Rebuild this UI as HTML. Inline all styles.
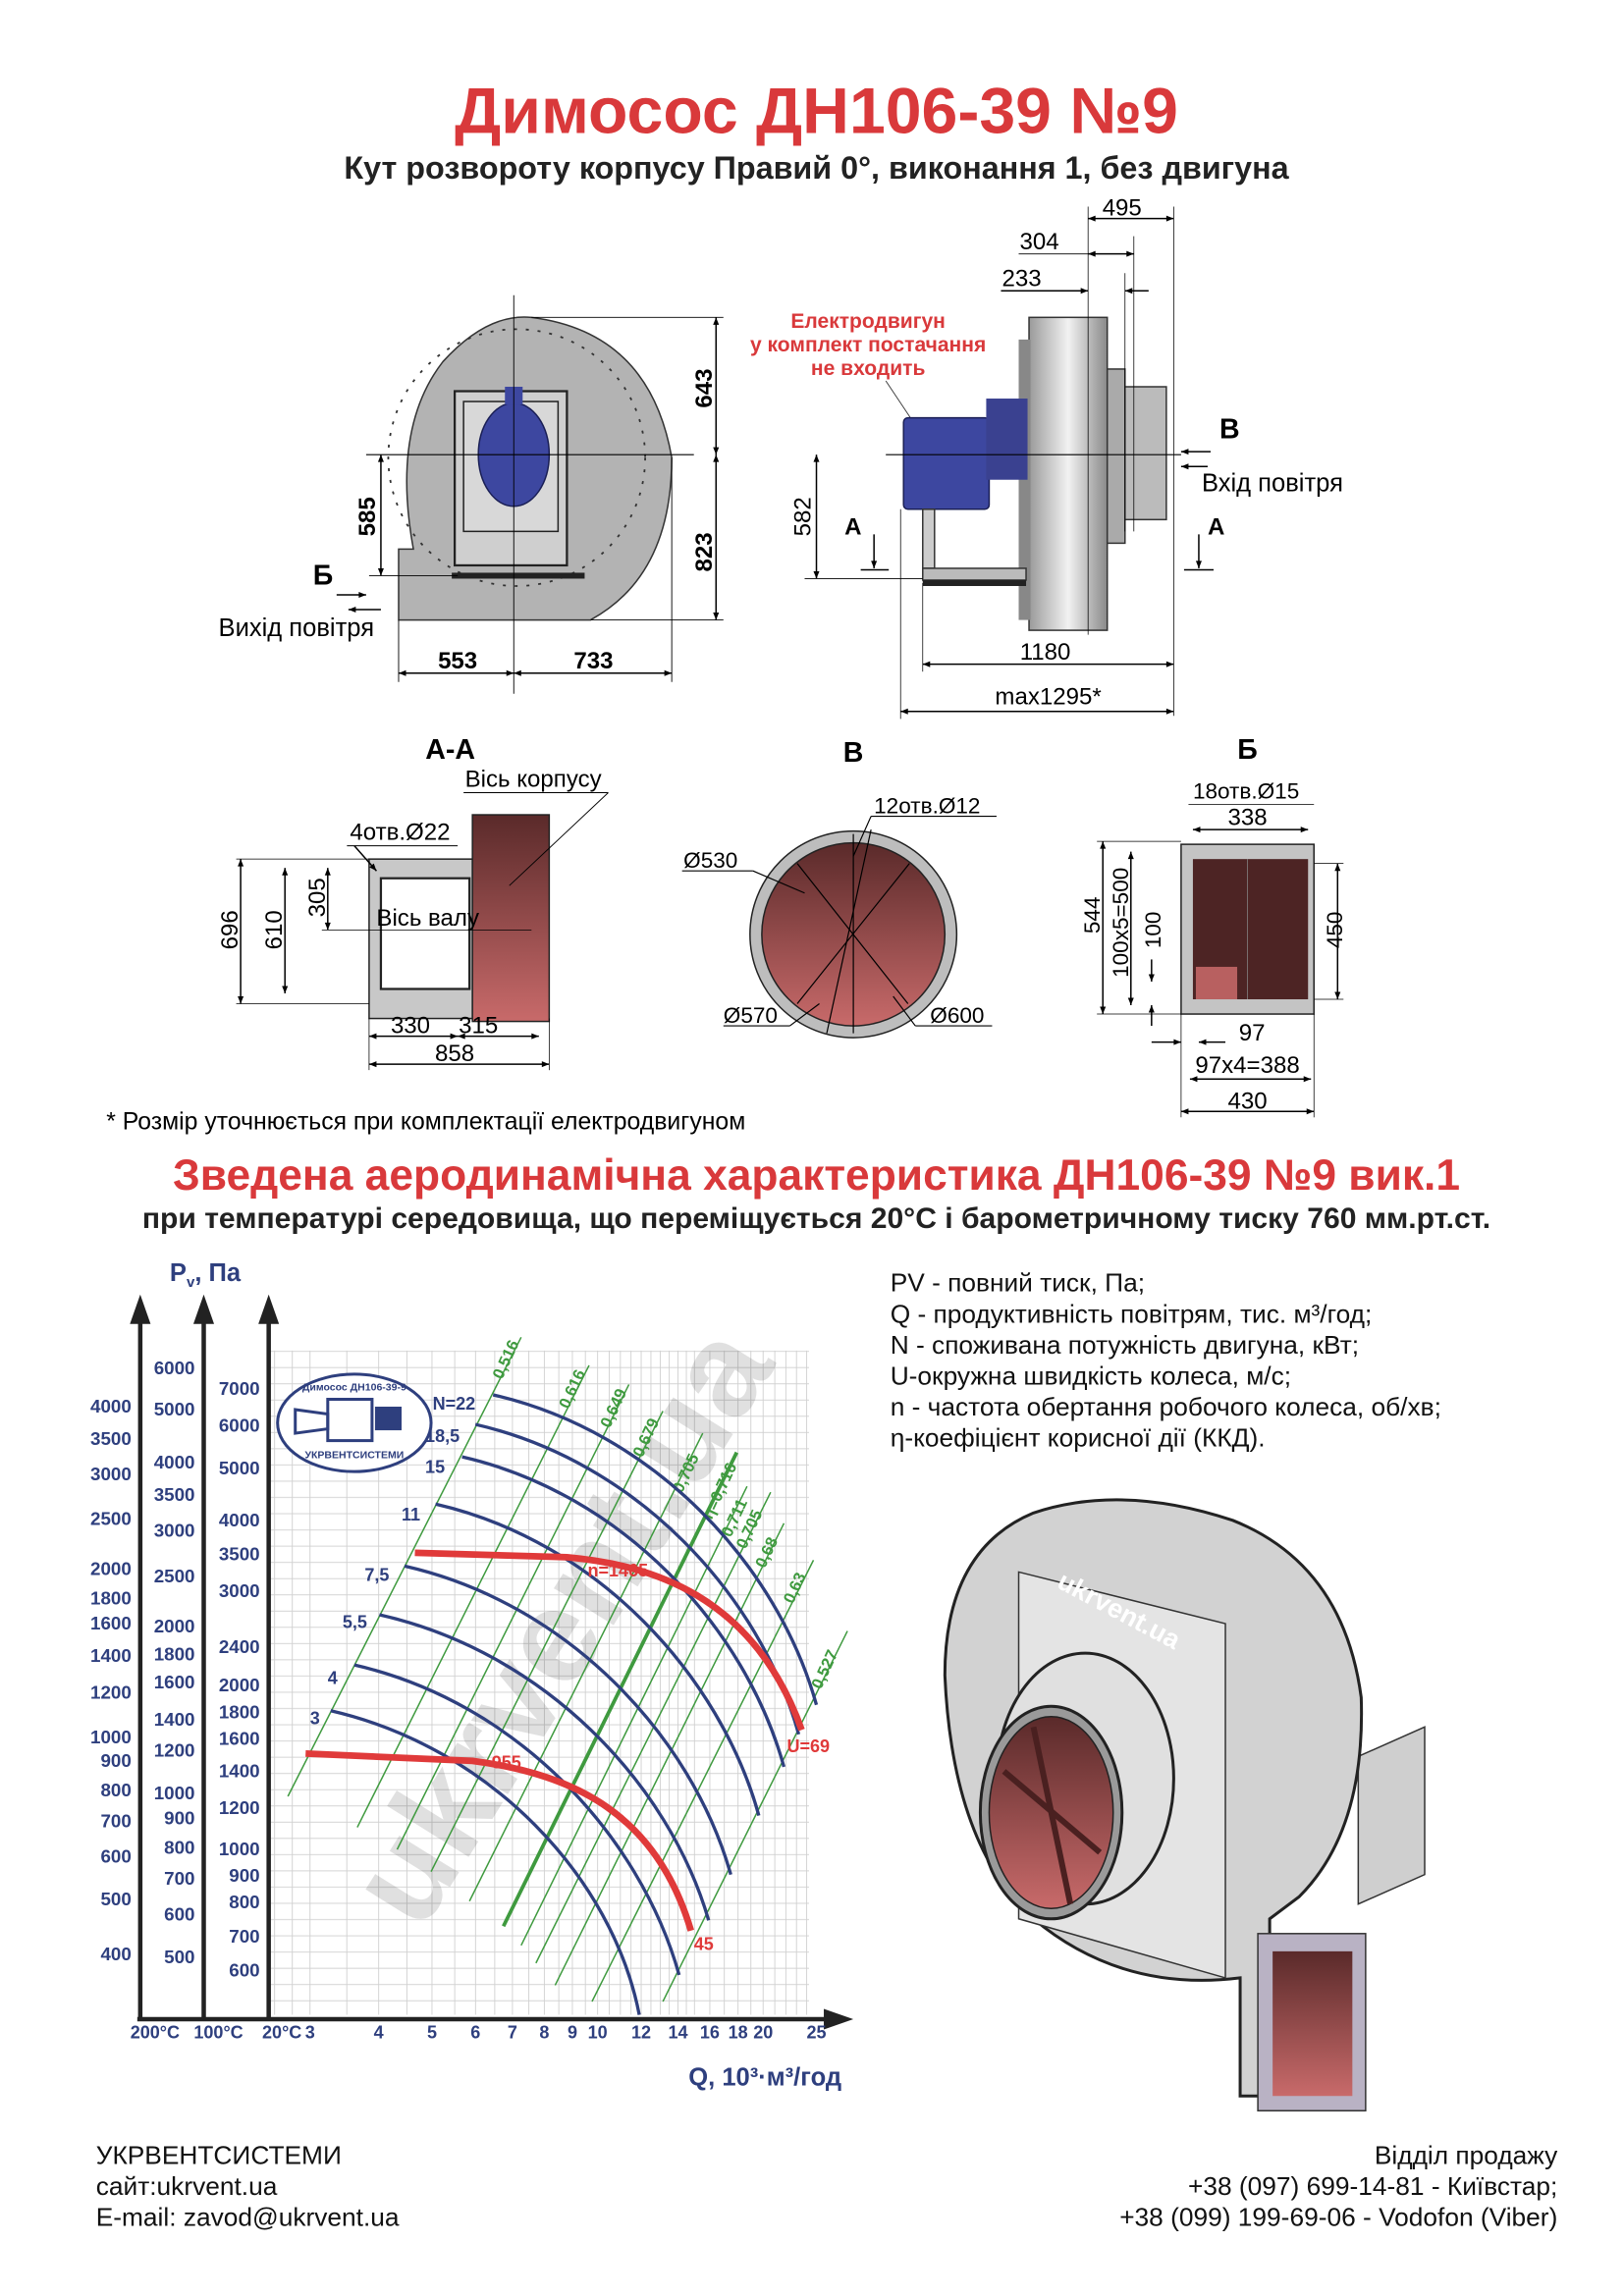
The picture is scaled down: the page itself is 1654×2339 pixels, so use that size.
<!DOCTYPE html>
<html><head><meta charset="utf-8"><style>
html,body{margin:0;padding:0;background:#fff}
svg{display:block}
text{font-family:"Liberation Sans",Arial,sans-serif}
</style></head><body>
<svg width="1654" height="2339" viewBox="0 0 1100 1555.5" xmlns="http://www.w3.org/2000/svg">
<defs>
<marker id="ar" viewBox="0 0 10 10" refX="10" refY="5" markerWidth="7" markerHeight="5" orient="auto-start-reverse"><path d="M0,1 L10,5 L0,9 Z" fill="#000"/></marker>
<linearGradient id="red" x1="0" y1="0" x2="0" y2="1"><stop offset="0" stop-color="#5a2a2a"/><stop offset="1" stop-color="#c86a6a"/></linearGradient>
<linearGradient id="gr" x1="0" y1="0" x2="1" y2="0"><stop offset="0" stop-color="#9a9a9a"/><stop offset=".5" stop-color="#f2f2f2"/><stop offset="1" stop-color="#8a8a8a"/></linearGradient>
<pattern id="hg" x="0" y="915" width="10" height="11" patternUnits="userSpaceOnUse"><line x1="0" y1="0.5" x2="10" y2="0.5" stroke="#d0d0d0" stroke-width="0.6"/></pattern>
</defs>

<!-- Titles -->
<text x="553" y="90" text-anchor="middle" font-size="44" font-weight="bold" fill="#d9393b">Димосос  ДН106-39 №9</text>
<text x="553" y="121" text-anchor="middle" font-size="21.5" font-weight="bold" fill="#222">Кут розвороту корпусу Правий 0°, виконання 1, без двигуна</text>

<!-- FRONT VIEW -->
<path d="M270,420 L270,372 L280,372 Q265,290 300,245 Q330,212 360,215 Q440,225 455,310 Q455,390 400,420 Z" fill="#b3b3b3" stroke="#333" stroke-width="1"/>
<circle cx="350" cy="310" r="87" fill="none" stroke="#333" stroke-width="1.2" stroke-dasharray="2 6"/>
<rect x="308" y="265" width="76" height="118" fill="#cfcfcf" stroke="#222" stroke-width="1.5"/>
<rect x="314" y="272" width="64" height="88" fill="#d8d8d8" stroke="#222"/>
<ellipse cx="348" cy="308" rx="24" ry="35" fill="#3d47a0" stroke="#1a1f55"/>
<rect x="342" y="262" width="12" height="12" fill="#3d47a0"/>
<rect x="306" y="388" width="90" height="4" fill="#222"/>
<line x1="248" y1="308" x2="470" y2="308" stroke="#000" stroke-width="0.8"/>
<line x1="348" y1="200" x2="348" y2="470" stroke="#000" stroke-width="0.6"/>
<line x1="360" y1="215" x2="490" y2="215" stroke="#000" stroke-width="0.6"/>
<line x1="400" y1="420" x2="490" y2="420" stroke="#000" stroke-width="0.6"/>
<line x1="485" y1="215" x2="485" y2="308" stroke="#000" marker-start="url(#ar)" marker-end="url(#ar)"/>
<line x1="485" y1="308" x2="485" y2="420" stroke="#000" marker-start="url(#ar)" marker-end="url(#ar)"/>
<text transform="translate(482,263) rotate(-90)" text-anchor="middle" font-size="16" font-weight="bold">643</text>
<text transform="translate(482,374) rotate(-90)" text-anchor="middle" font-size="16" font-weight="bold">823</text>
<line x1="258" y1="308" x2="258" y2="390" stroke="#000" marker-start="url(#ar)" marker-end="url(#ar)"/>
<line x1="250" y1="390" x2="310" y2="390" stroke="#000" stroke-width="0.6"/>
<text transform="translate(254,350) rotate(-90)" text-anchor="middle" font-size="16" font-weight="bold">585</text>
<line x1="270" y1="420" x2="270" y2="462" stroke="#000" stroke-width="0.6"/>
<line x1="455" y1="310" x2="455" y2="462" stroke="#000" stroke-width="0.6"/>
<line x1="270" y1="456" x2="348" y2="456" stroke="#000" marker-start="url(#ar)" marker-end="url(#ar)"/>
<line x1="348" y1="456" x2="455" y2="456" stroke="#000" marker-start="url(#ar)" marker-end="url(#ar)"/>
<text x="310" y="453" text-anchor="middle" font-size="16" font-weight="bold">553</text>
<text x="402" y="453" text-anchor="middle" font-size="16" font-weight="bold">733</text>
<text x="212" y="396" font-size="19" font-weight="bold">Б</text>
<line x1="228" y1="403" x2="248" y2="403" stroke="#000" marker-end="url(#ar)"/>
<line x1="258" y1="413" x2="236" y2="413" stroke="#000" marker-end="url(#ar)"/>
<text x="148" y="431" font-size="17">Вихід повітря</text>

<!-- SIDE VIEW -->
<text x="588" y="222" text-anchor="middle" font-size="14" font-weight="bold" fill="#d9393b">Електродвигун</text>
<text x="588" y="238" text-anchor="middle" font-size="14" font-weight="bold" fill="#d9393b">у комплект постачання</text>
<text x="588" y="254" text-anchor="middle" font-size="14" font-weight="bold" fill="#d9393b">не входить</text>
<line x1="600" y1="258" x2="628" y2="300" stroke="#333" stroke-width="0.6"/>
<rect x="697" y="215" width="53" height="212" fill="url(#gr)" stroke="#333"/>
<rect x="690" y="230" width="8" height="190" fill="#888"/>
<rect x="750" y="250" width="12" height="118" fill="#aaa" stroke="#333"/>
<rect x="762" y="262" width="28" height="90" fill="#bbb" stroke="#333"/>
<rect x="612" y="283" width="58" height="62" rx="3" fill="#3d47a0" stroke="#1a1f55"/>
<rect x="668" y="270" width="28" height="55" fill="#3a4190"/>
<rect x="625" y="345" width="8" height="40" fill="#ccc" stroke="#333"/>
<rect x="625" y="385" width="70" height="8" fill="#bbb" stroke="#333"/>
<rect x="625" y="393" width="70" height="4" fill="#222"/>
<line x1="600" y1="308" x2="800" y2="308" stroke="#000" stroke-width="0.8"/>
<line x1="737" y1="140" x2="737" y2="430" stroke="#000" stroke-width="0.5"/>
<line x1="795" y1="140" x2="795" y2="485" stroke="#000" stroke-width="0.5"/>
<line x1="768" y1="160" x2="768" y2="360" stroke="#000" stroke-width="0.5"/>
<line x1="762" y1="185" x2="762" y2="360" stroke="#000" stroke-width="0.5"/>
<line x1="737" y1="148" x2="795" y2="148" stroke="#000" marker-start="url(#ar)" marker-end="url(#ar)"/>
<text x="760" y="146" text-anchor="middle" font-size="16">495</text>
<line x1="690" y1="172" x2="737" y2="172" stroke="#000" stroke-width="0.6"/>
<line x1="737" y1="172" x2="768" y2="172" stroke="#000" marker-start="url(#ar)" marker-end="url(#ar)"/>
<text x="704" y="169" text-anchor="middle" font-size="16">304</text>
<line x1="678" y1="197" x2="737" y2="197" stroke="#000" marker-end="url(#ar)"/>
<line x1="778" y1="197" x2="762" y2="197" stroke="#000" marker-end="url(#ar)"/>
<text x="692" y="194" text-anchor="middle" font-size="16">233</text>
<line x1="553" y1="308" x2="553" y2="392" stroke="#000" marker-start="url(#ar)" marker-end="url(#ar)"/>
<line x1="545" y1="392" x2="625" y2="392" stroke="#000" stroke-width="0.6"/>
<text transform="translate(549,350) rotate(-90)" text-anchor="middle" font-size="16">582</text>
<text x="572" y="362" font-size="16" font-weight="bold">A</text>
<line x1="592" y1="362" x2="592" y2="385" stroke="#000" marker-end="url(#ar)"/>
<line x1="583" y1="386" x2="602" y2="386" stroke="#000"/>
<text x="818" y="362" font-size="16" font-weight="bold">A</text>
<line x1="812" y1="362" x2="812" y2="385" stroke="#000" marker-end="url(#ar)"/>
<line x1="802" y1="386" x2="822" y2="386" stroke="#000"/>
<text x="826" y="297" font-size="19" font-weight="bold">B</text>
<line x1="820" y1="306" x2="800" y2="306" stroke="#000" marker-end="url(#ar)"/>
<line x1="818" y1="316" x2="800" y2="316" stroke="#000" marker-end="url(#ar)"/>
<text x="814" y="333" font-size="17">Вхід повітря</text>
<line x1="625" y1="395" x2="625" y2="455" stroke="#000" stroke-width="0.5"/>
<line x1="610" y1="345" x2="610" y2="487" stroke="#000" stroke-width="0.5"/>
<line x1="625" y1="450" x2="795" y2="450" stroke="#000" marker-start="url(#ar)" marker-end="url(#ar)"/>
<text x="708" y="447" text-anchor="middle" font-size="16">1180</text>
<line x1="610" y1="482" x2="795" y2="482" stroke="#000" marker-start="url(#ar)" marker-end="url(#ar)"/>
<text x="710" y="477" text-anchor="middle" font-size="16">max1295*</text>

<!-- SECTIONS -->
<text x="305" y="514" text-anchor="middle" font-size="19" font-weight="bold">A-A</text>
<text x="578" y="516" text-anchor="middle" font-size="19" font-weight="bold">B</text>
<text x="845" y="514" text-anchor="middle" font-size="19" font-weight="bold">Б</text>
<rect x="250" y="582" width="70" height="108" fill="#c8c8c8" stroke="#222"/>
<rect x="258" y="595" width="60" height="75" fill="#fff" stroke="#222" stroke-width="1.5"/>
<rect x="320" y="552" width="52" height="140" fill="url(#red)" stroke="#222"/>
<text x="315" y="533" font-size="16">Вісь корпусу</text>
<line x1="314" y1="537" x2="412" y2="537" stroke="#000" stroke-width="0.6"/>
<line x1="412" y1="537" x2="345" y2="600" stroke="#000" stroke-width="0.6"/>
<text x="237" y="569" font-size="16">4отв.Ø22</text>
<line x1="235" y1="573" x2="310" y2="573" stroke="#000" stroke-width="0.6"/>
<line x1="240" y1="573" x2="255" y2="590" stroke="#000" marker-end="url(#ar)"/>
<text x="255" y="627" font-size="16">Вісь валу</text>
<line x1="160" y1="582" x2="250" y2="582" stroke="#000" stroke-width="0.5"/>
<line x1="160" y1="680" x2="250" y2="680" stroke="#000" stroke-width="0.5"/>
<line x1="163" y1="582" x2="163" y2="680" stroke="#000" marker-start="url(#ar)" marker-end="url(#ar)"/>
<text transform="translate(161,630) rotate(-90)" text-anchor="middle" font-size="16">696</text>
<line x1="193" y1="588" x2="193" y2="673" stroke="#000" marker-start="url(#ar)" marker-end="url(#ar)"/>
<text transform="translate(191,630) rotate(-90)" text-anchor="middle" font-size="16">610</text>
<line x1="222" y1="588" x2="222" y2="630" stroke="#000" marker-start="url(#ar)" marker-end="url(#ar)"/>
<text transform="translate(220,608) rotate(-90)" text-anchor="middle" font-size="16">305</text>
<line x1="218" y1="630" x2="360" y2="630" stroke="#000" stroke-width="0.5"/>
<line x1="250" y1="690" x2="250" y2="725" stroke="#000" stroke-width="0.5"/>
<line x1="372" y1="690" x2="372" y2="725" stroke="#000" stroke-width="0.5"/>
<line x1="250" y1="702" x2="310" y2="702" stroke="#000" marker-start="url(#ar)" marker-end="url(#ar)"/>
<line x1="310" y1="702" x2="365" y2="702" stroke="#000" marker-start="url(#ar)" marker-end="url(#ar)"/>
<text x="278" y="700" text-anchor="middle" font-size="16">330</text>
<text x="324" y="700" text-anchor="middle" font-size="16">315</text>
<line x1="250" y1="721" x2="372" y2="721" stroke="#000" marker-start="url(#ar)" marker-end="url(#ar)"/>
<text x="308" y="719" text-anchor="middle" font-size="16">858</text>
<circle cx="578" cy="633" r="70" fill="#bdbdbd" stroke="#222"/>
<circle cx="578" cy="633" r="62" fill="url(#red)" stroke="#222"/>
<g stroke="#000" stroke-width="0.8">
<line x1="540" y1="585" x2="615" y2="680"/><line x1="616" y1="585" x2="540" y2="680"/><line x1="578" y1="565" x2="578" y2="700"/><line x1="590" y1="562" x2="560" y2="700"/>
<line x1="462" y1="590" x2="510" y2="590"/><line x1="510" y1="590" x2="545" y2="605"/>
<line x1="490" y1="695" x2="535" y2="695"/><line x1="535" y1="695" x2="555" y2="680"/>
<line x1="620" y1="695" x2="672" y2="695"/><line x1="620" y1="695" x2="605" y2="675"/>
<line x1="590" y1="553" x2="675" y2="553"/><line x1="590" y1="553" x2="578" y2="580"/>
</g>
<text x="463" y="588" font-size="15">Ø530</text>
<text x="490" y="693" font-size="15">Ø570</text>
<text x="630" y="693" font-size="15">Ø600</text>
<text x="592" y="551" font-size="15">12отв.Ø12</text>
<rect x="800" y="572" width="90" height="115" fill="#c4c4c4" stroke="#222"/>
<rect x="808" y="582" width="78" height="95" fill="#4d2424"/>
<rect x="810" y="655" width="28" height="22" fill="#b86060"/>
<line x1="845" y1="582" x2="845" y2="677" stroke="#888" stroke-width="0.5"/>
<text x="808" y="541" font-size="15">18отв.Ø15</text>
<line x1="805" y1="545" x2="890" y2="545" stroke="#000" stroke-width="0.5"/>
<line x1="808" y1="562" x2="886" y2="562" stroke="#000" marker-start="url(#ar)" marker-end="url(#ar)"/>
<text x="845" y="559" text-anchor="middle" font-size="16">338</text>
<line x1="743" y1="570" x2="800" y2="570" stroke="#000" stroke-width="0.5"/>
<line x1="743" y1="687" x2="800" y2="687" stroke="#000" stroke-width="0.5"/>
<line x1="747" y1="570" x2="747" y2="687" stroke="#000" marker-start="url(#ar)" marker-end="url(#ar)"/>
<text transform="translate(745,620) rotate(-90)" text-anchor="middle" font-size="15">544</text>
<line x1="766" y1="577" x2="766" y2="681" stroke="#000" marker-start="url(#ar)" marker-end="url(#ar)"/>
<text transform="translate(764,625) rotate(-90)" text-anchor="middle" font-size="15">100x5=500</text>
<line x1="780" y1="650" x2="780" y2="665" stroke="#000" marker-end="url(#ar)"/>
<line x1="780" y1="695" x2="780" y2="681" stroke="#000" marker-end="url(#ar)"/>
<text transform="translate(786,630) rotate(-90)" text-anchor="middle" font-size="15">100</text>
<line x1="890" y1="585" x2="910" y2="585" stroke="#000" stroke-width="0.5"/>
<line x1="890" y1="677" x2="910" y2="677" stroke="#000" stroke-width="0.5"/>
<line x1="906" y1="585" x2="906" y2="677" stroke="#000" marker-start="url(#ar)" marker-end="url(#ar)"/>
<text transform="translate(909,630) rotate(-90)" text-anchor="middle" font-size="15">450</text>
<line x1="800" y1="687" x2="800" y2="757" stroke="#000" stroke-width="0.5"/>
<line x1="890" y1="687" x2="890" y2="757" stroke="#000" stroke-width="0.5"/>
<line x1="780" y1="706" x2="800" y2="706" stroke="#000" marker-end="url(#ar)"/>
<line x1="830" y1="706" x2="812" y2="706" stroke="#000" marker-end="url(#ar)"/>
<text x="848" y="705" text-anchor="middle" font-size="16">97</text>
<line x1="806" y1="731" x2="888" y2="731" stroke="#000" marker-start="url(#ar)" marker-end="url(#ar)"/>
<text x="845" y="727" text-anchor="middle" font-size="16">97x4=388</text>
<line x1="800" y1="753" x2="890" y2="753" stroke="#000" marker-start="url(#ar)" marker-end="url(#ar)"/>
<text x="845" y="751" text-anchor="middle" font-size="16">430</text>

<text x="72" y="765" font-size="16.5">* Розмір уточнюється при комплектації електродвигуном</text>

<text x="553" y="806" text-anchor="middle" font-size="29.5" font-weight="bold" fill="#d9393b">Зведена аеродинамічна характеристика ДН106-39 №9 вик.1</text>
<text x="553" y="832" text-anchor="middle" font-size="20" font-weight="bold" fill="#222">при температурі середовища, що переміщується 20°С і барометричному тиску 760 мм.рт.ст.</text>

<!-- CHART -->
<rect x="182" y="915" width="366" height="450" fill="url(#hg)"/>
<g stroke="#d0d0d0" stroke-width="0.6">
<line x1="186" y1="915" x2="186" y2="1365"/><line x1="198" y1="915" x2="198" y2="1365"/>
<line x1="210" y1="915" x2="210" y2="1365"/><line x1="234.9" y1="915" x2="234.9" y2="1365"/><line x1="256.5" y1="915" x2="256.5" y2="1365"/><line x1="275.6" y1="915" x2="275.6" y2="1365"/><line x1="292.6" y1="915" x2="292.6" y2="1365"/><line x1="308" y1="915" x2="308" y2="1365"/><line x1="322.1" y1="915" x2="322.1" y2="1365"/><line x1="335.1" y1="915" x2="335.1" y2="1365"/><line x1="347.1" y1="915" x2="347.1" y2="1365"/><line x1="358.2" y1="915" x2="358.2" y2="1365"/><line x1="368.7" y1="915" x2="368.7" y2="1365"/><line x1="378.5" y1="915" x2="378.5" y2="1365"/><line x1="387.7" y1="915" x2="387.7" y2="1365"/><line x1="396.5" y1="915" x2="396.5" y2="1365"/><line x1="404.8" y1="915" x2="404.8" y2="1365"/><line x1="412.7" y1="915" x2="412.7" y2="1365"/><line x1="420.2" y1="915" x2="420.2" y2="1365"/><line x1="427.4" y1="915" x2="427.4" y2="1365"/><line x1="434.3" y1="915" x2="434.3" y2="1365"/><line x1="440.9" y1="915" x2="440.9" y2="1365"/><line x1="447.2" y1="915" x2="447.2" y2="1365"/><line x1="453.3" y1="915" x2="453.3" y2="1365"/><line x1="459.2" y1="915" x2="459.2" y2="1365"/><line x1="464.9" y1="915" x2="464.9" y2="1365"/><line x1="470.4" y1="915" x2="470.4" y2="1365"/><line x1="480.8" y1="915" x2="480.8" y2="1365"/><line x1="490.6" y1="915" x2="490.6" y2="1365"/><line x1="499.9" y1="915" x2="499.9" y2="1365"/><line x1="508.6" y1="915" x2="508.6" y2="1365"/><line x1="516.9" y1="915" x2="516.9" y2="1365"/><line x1="524.8" y1="915" x2="524.8" y2="1365"/><line x1="532.3" y1="915" x2="532.3" y2="1365"/><line x1="539.5" y1="915" x2="539.5" y2="1365"/><line x1="546.4" y1="915" x2="546.4" y2="1365"/>
</g>
<text transform="translate(285,1310) rotate(-58)" font-size="90" font-weight="bold" fill="#000" fill-opacity="0.12">ukrvent.ua</text>
<g stroke="#3f9a3f" stroke-width="1">
<line x1="195" y1="1217" x2="353" y2="906"/><line x1="242" y1="1238" x2="399" y2="925"/><line x1="269" y1="1253" x2="426" y2="938"/><line x1="292" y1="1268" x2="449" y2="956"/><line x1="318" y1="1288" x2="476" y2="971"/><line x1="341" y1="1305" x2="499" y2="984" stroke-width="2.5"/><line x1="353" y1="1318" x2="506" y2="1007"/><line x1="363" y1="1330" x2="522" y2="1011"/><line x1="376" y1="1345" x2="531" y2="1032"/><line x1="401" y1="1356" x2="551" y2="1057"/><line x1="449" y1="1356" x2="574" y2="1105"/>
</g>
<g fill="#3f9a3f" font-size="11" font-weight="bold">
<text transform="translate(340,935) rotate(-65)">0,516</text>
<text transform="translate(385,955) rotate(-65)">0,616</text>
<text transform="translate(413,968) rotate(-65)">0,649</text>
<text transform="translate(435,988) rotate(-65)">0,679</text>
<text transform="translate(462,1012) rotate(-65)">0,705</text>
<text transform="translate(482,1030) rotate(-65)">η=0,716</text>
<text transform="translate(495,1042) rotate(-65)">0,711</text>
<text transform="translate(505,1050) rotate(-65)">0,705</text>
<text transform="translate(518,1063) rotate(-65)">0,68</text>
<text transform="translate(537,1087) rotate(-65)">0,63</text>
<text transform="translate(556,1145) rotate(-65)">0,527</text>
</g>
<g stroke="#2e3f7e" stroke-width="2.2" fill="none">
<path d="M334,945 C443.5,970 526.7,1060.5 553,1155"/>
<path d="M322,965 C431.5,990 514.7,1080.5 541,1175"/>
<path d="M313,987 C422,1012 504.8,1102.5 531,1197"/>
<path d="M295,1019 C404.5,1044 487.7,1135 514,1230"/>
<path d="M274,1061 C384.5,1086 468.5,1176 495,1270"/>
<path d="M257,1094 C368.5,1119 453,1208 480,1301"/>
<path d="M240,1128 C350,1153 433.6,1243.5 460,1338"/>
<path d="M224,1159 C332.5,1184 415,1272 433,1365"/>
</g>
<g stroke="#e03a3a" stroke-width="4.5" fill="none">
<path d="M281,1052 L384,1055 C440,1060 510,1080 543,1172"/>
<path d="M207,1188 L320,1193 C390,1202 445,1230 468,1308"/>
</g>
<g fill="#2e3f7e" font-size="12" font-weight="bold">
<text x="293" y="955">N=22</text><text x="288" y="977">18,5</text><text x="288" y="998">15</text><text x="272" y="1030">11</text><text x="247" y="1071">7,5</text><text x="232" y="1103">5,5</text><text x="222" y="1141">4</text><text x="210" y="1168">3</text>
</g>
<g fill="#e03a3a" font-size="12" font-weight="bold">
<text x="398" y="1068">n=1465</text><text x="333" y="1198">955</text><text x="533" y="1187">U=69</text><text x="470" y="1321">45</text>
</g>
<ellipse cx="240" cy="964" rx="52" ry="33" fill="#fff" stroke="#2e3f7e" stroke-width="2"/>
<rect x="222" y="948" width="30" height="28" fill="none" stroke="#2e3f7e" stroke-width="2"/>
<path d="M200,955 L222,958 L222,968 L200,971 Z" fill="none" stroke="#2e3f7e" stroke-width="2"/>
<rect x="254" y="953" width="18" height="16" fill="#2e3f7e"/>
<text x="240" y="942" text-anchor="middle" font-size="7" fill="#2e3f7e" font-weight="bold">Димосос ДН106-39-9</text>
<text x="240" y="988" text-anchor="middle" font-size="7" fill="#2e3f7e" font-weight="bold">УКРВЕНТСИСТЕМИ</text>
<g stroke="#222" stroke-width="3">
<line x1="95" y1="1368" x2="95" y2="895"/><line x1="138" y1="1368" x2="138" y2="895"/><line x1="182" y1="1368" x2="182" y2="895"/><line x1="93" y1="1368" x2="560" y2="1368"/>
</g>
<g fill="#222"><path d="M88,897 L95,877 L102,897 Z"/><path d="M131,897 L138,877 L145,897 Z"/><path d="M175,897 L182,877 L189,897 Z"/><path d="M558,1361 L578,1368 L558,1375 Z"/></g>
<text x="115" y="868" font-size="17" font-weight="bold" fill="#2e3f7e">P<tspan font-size="10" dy="4">v</tspan><tspan dy="-4">, Па</tspan></text>
<g font-size="12.5" font-weight="bold" fill="#2e3f7e" text-anchor="end">
<text x="89" y="957">4000</text><text x="89" y="979">3500</text><text x="89" y="1003">3000</text><text x="89" y="1033">2500</text><text x="89" y="1067">2000</text><text x="89" y="1087">1800</text><text x="89" y="1104">1600</text><text x="89" y="1126">1400</text><text x="89" y="1151">1200</text><text x="89" y="1181">1000</text><text x="89" y="1197">900</text><text x="89" y="1217">800</text><text x="89" y="1238">700</text><text x="89" y="1262">600</text><text x="89" y="1291">500</text><text x="89" y="1328">400</text>
<text x="132" y="931">6000</text><text x="132" y="959">5000</text><text x="132" y="995">4000</text><text x="132" y="1017">3500</text><text x="132" y="1041">3000</text><text x="132" y="1072">2500</text><text x="132" y="1106">2000</text><text x="132" y="1125">1800</text><text x="132" y="1144">1600</text><text x="132" y="1169">1400</text><text x="132" y="1190">1200</text><text x="132" y="1219">1000</text><text x="132" y="1236">900</text><text x="132" y="1256">800</text><text x="132" y="1277">700</text><text x="132" y="1301">600</text><text x="132" y="1330">500</text>
<text x="176" y="945">7000</text><text x="176" y="970">6000</text><text x="176" y="999">5000</text><text x="176" y="1034">4000</text><text x="176" y="1057">3500</text><text x="176" y="1082">3000</text><text x="176" y="1120">2400</text><text x="176" y="1146">2000</text><text x="176" y="1164">1800</text><text x="176" y="1182">1600</text><text x="176" y="1204">1400</text><text x="176" y="1229">1200</text><text x="176" y="1257">1000</text><text x="176" y="1275">900</text><text x="176" y="1293">800</text><text x="176" y="1316">700</text><text x="176" y="1339">600</text>
</g>
<g font-size="12" font-weight="bold" fill="#2e3f7e" text-anchor="middle">
<text x="105" y="1381">200°С</text><text x="148" y="1381">100°С</text><text x="191" y="1381">20°С</text>
<text x="210" y="1381">3</text><text x="256.5" y="1381">4</text><text x="292.6" y="1381">5</text><text x="322.1" y="1381">6</text><text x="347.1" y="1381">7</text><text x="368.7" y="1381">8</text><text x="387.7" y="1381">9</text><text x="404.8" y="1381">10</text><text x="434.3" y="1381">12</text><text x="459.2" y="1381">14</text><text x="480.8" y="1381">16</text><text x="499.9" y="1381">18</text><text x="516.9" y="1381">20</text><text x="553" y="1381">25</text>
</g>
<text x="570" y="1413" text-anchor="end" font-size="17" font-weight="bold" fill="#2e3f7e">Q, 10³·м³/год</text>

<g font-size="17.5" fill="#111">
<text x="603" y="875">PV - повний тиск, Па;</text>
<text x="603" y="896">Q - продуктивність повітрям, тис. м³/год;</text>
<text x="603" y="917">N - споживана потужність двигуна, кВт;</text>
<text x="603" y="938">U-окружна швидкість колеса, м/с;</text>
<text x="603" y="959">n - частота обертання робочого колеса, об/хв;</text>
<text x="603" y="980">η-коефіцієнт корисної дії (ККД).</text>
</g>

<!-- 3D fan -->
<path d="M920,1190 L965,1170 L965,1270 L920,1290 Z" fill="#cfcfcf" stroke="#333"/>
<path d="M640,1135 Q640,1050 700,1025 Q760,1005 835,1030 Q910,1060 922,1150 Q925,1240 880,1285 L860,1300 L860,1420 L840,1420 L840,1340 Q760,1350 700,1300 Q645,1250 640,1135 Z" fill="#d2d2d2" stroke="#222" stroke-width="2"/>
<path d="M690,1065 L830,1100 L830,1340 L690,1300 Z" fill="#e4e4e4" stroke="#333"/>
<ellipse cx="735" cy="1205" rx="60" ry="85" fill="#e0e0e0" stroke="#222" stroke-width="2"/>
<ellipse cx="712" cy="1228" rx="48" ry="72" fill="#9a9a9a" stroke="#222" stroke-width="2"/>
<ellipse cx="712" cy="1228" rx="42" ry="65" fill="url(#red)" stroke="#222"/>
<line x1="680" y1="1200" x2="745" y2="1255" stroke="#4a2020" stroke-width="4"/>
<line x1="700" y1="1170" x2="725" y2="1290" stroke="#4a2020" stroke-width="4"/>
<rect x="852" y="1310" width="73" height="120" fill="#b9b2c4" stroke="#333"/>
<path d="M862,1322 L916,1322 L916,1420 L862,1420 Z" fill="url(#red)"/>
<text transform="translate(715,1075) rotate(28)" font-size="18" font-weight="bold" fill="#fff">ukrvent.ua</text>

<g font-size="17.5" fill="#111">
<text x="65" y="1466">УКРВЕНТСИСТЕМИ</text>
<text x="65" y="1487">сайт:ukrvent.ua</text>
<text x="65" y="1508">E-mail: zavod@ukrvent.ua</text>
<text x="1055" y="1466" text-anchor="end">Відділ продажу</text>
<text x="1055" y="1487" text-anchor="end">+38 (097) 699-14-81 - Київстар;</text>
<text x="1055" y="1508" text-anchor="end">+38 (099) 199-69-06 - Vodofon (Viber)</text>
</g>
</svg>
</body></html>
